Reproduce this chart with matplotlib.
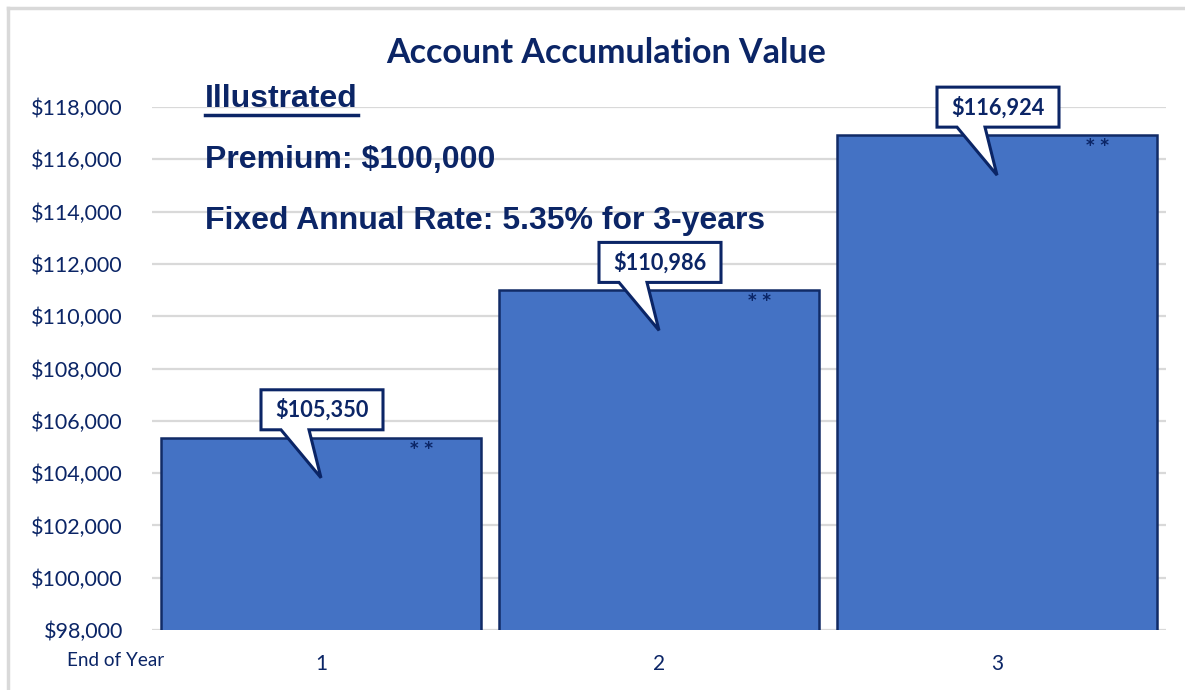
import matplotlib
matplotlib.use("Agg")
import matplotlib.pyplot as plt
import matplotlib.transforms as mtransforms
from matplotlib.patches import Polygon
from matplotlib.lines import Line2D

# chart data
years = [1, 2, 3]
values = [105350, 110986, 116924]
value_labels = ["$105,350", "$110,986", "$116,924"]
y_ticks = list(range(98000, 118001, 2000))
title = "Account Accumulation Value"
notes = ["Illustrated", "Premium: $100,000", "Fixed Annual Rate: 5.35% for 3-years"]

NAVY = "#0B2566"
BAR = "#4472C4"
BAR_EDGE = "#112B66"
GRID = "#D9D9D9"

W, H = 1185, 690
fig = plt.figure(figsize=(W / 100, H / 100), dpi=100)
fig.patch.set_facecolor("white")

# light outer frame (only top and left show in the crop)
fig.add_artist(Line2D([8 / W, 1], [1 - 8 / H, 1 - 8 / H], transform=fig.transFigure,
                      color="#D9D9D9", linewidth=2.5))
fig.add_artist(Line2D([8 / W, 8 / W], [0, 1 - 8 / H], transform=fig.transFigure,
                      color="#D9D9D9", linewidth=2.5))

ax = fig.add_axes([152 / W, (H - 630) / H, (1166 - 152) / W, (630 - 107) / H])
ax.bar(years, values, width=0.945, color=BAR, edgecolor=BAR_EDGE, linewidth=1.8, zorder=2)
ax.set_xlim(0.5, 3.5)
ax.set_ylim(98000, 118000)
ax.set_yticks(y_ticks)
ax.set_yticklabels(["${:,}".format(v) for v in y_ticks])
ax.set_xticks(years)
ax.set_xticklabels([str(y) for y in years])
ax.yaxis.grid(True, color=GRID, linewidth=1.6, zorder=0)
ax.set_axisbelow(True)
for s in ax.spines.values():
    s.set_visible(False)
ax.tick_params(axis="y", length=0, pad=21, labelsize=15.5, labelcolor=NAVY)
ax.tick_params(axis="x", length=0, pad=17, labelsize=15, labelcolor=NAVY)
for lab in ax.get_xticklabels() + ax.get_yticklabels():
    lab.set_fontfamily("Lato")

fig.text(116 / W, 1 - 661 / H, "End of Year", ha="center", va="center",
         fontsize=13.6, color=NAVY, family="Lato")

fig.text(606 / W, 1 - 53 / H, title, ha="center", va="center", fontsize=24.5,
         fontweight="bold", color=NAVY, family="Lato")

# notes block
note_y = [99, 160, 221]
note_objs = []
for txt, yy in zip(notes, note_y):
    t = fig.text(205 / W, 1 - yy / H, txt, ha="left", va="center", fontsize=23,
                 fontweight="bold", color=NAVY, family="Liberation Sans")
    note_objs.append(t)

# speech-bubble callouts, shape in pixels relative to bar top
px = 1 / 100.0
shape = [(-60, 8), (-40, 8), (0, -40), (-12, 8), (62, 8), (62, 48), (-60, 48)]
for x, v, lab in zip(years, values, value_labels):
    tr = fig.dpi_scale_trans + mtransforms.ScaledTranslation(x, v, ax.transData)
    poly = Polygon([(a * px, b * px) for a, b in shape], closed=True, transform=tr,
                   facecolor="white", edgecolor=NAVY, linewidth=2.2, zorder=5, clip_on=False)
    ax.add_patch(poly)
    ax.text(1 * px, 28 * px, lab, transform=tr, ha="center", va="center", fontsize=15.7,
            fontweight="bold", color=NAVY, family="Lato", zorder=6, clip_on=False)
    ax.text(101 * px, -11 * px, "* *", transform=tr, ha="center", va="center", fontsize=12,
            fontweight="bold", color=NAVY, family="DejaVu Sans", zorder=4)

# underline for the first note
fig.canvas.draw()
r = fig.canvas.get_renderer()
bb = note_objs[0].get_window_extent(renderer=r)
uy = bb.y0 - 1
fig.add_artist(Line2D([bb.x0 / W, bb.x1 / W], [uy / H, uy / H], transform=fig.transFigure,
                      color=NAVY, linewidth=2.5))

fig.savefig("out.png", dpi=100)
